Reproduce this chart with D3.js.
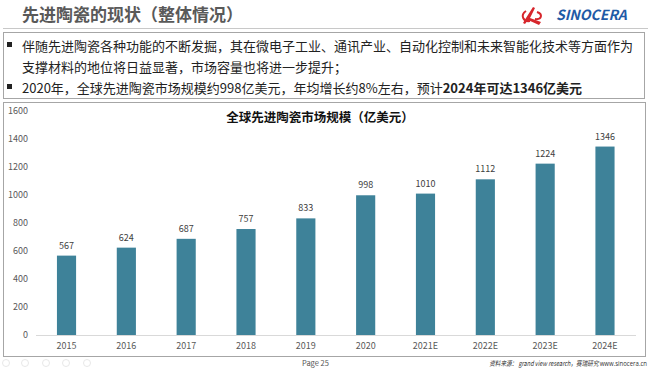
<!DOCTYPE html>
<html>
<head>
<meta charset="utf-8">
<script src="https://cdn.jsdelivr.net/npm/d3@7"></script>
<style>
  body { margin: 0; background: #fff; }
  svg { display: block; }
  text { font-family: "Noto Sans CJK SC", "Noto Sans", sans-serif; }
</style>
</head>
<body>
<div id="chart"></div>
<script>
// chart data
const years = ['2015', '2016', '2017', '2018', '2019', '2020', '2021E', '2022E', '2023E', '2024E'];
const marketSize = [567, 624, 687, 757, 833, 998, 1010, 1112, 1224, 1346];
const yTicks = [0, 200, 400, 600, 800, 1000, 1200, 1400, 1600];

const bullets = [
  [{t: '伴随先进陶瓷各种功能的不断发掘，其在微电子工业、通讯产业、自动化控制和未来智能化技术等方面作为'}],
  [{t: '支撑材料的地位将日益显著，市场容量也将进一步提升；'}],
  [{t: '2020年，全球先进陶瓷市场规模约998亿美元，年均增长约8%左右，预计'}, {t: '2024年可达1346亿美元', b: true}]
];

const W = 651, H = 378;
const svg = d3.select('#chart').append('svg')
  .attr('width', W)
  .attr('height', H);

// ---- header
svg.append('text')
  .attr('x', 22).attr('y', 21)
  .attr('font-size', 17).attr('font-weight', 'bold')
  .attr('fill', '#595959')
  .text('先进陶瓷的现状（整体情况）');

// logo swoosh
const logo = svg.append('g').attr('transform', 'translate(522,7)');
logo.append('path')
  .attr('d', 'M11 0 L13 1 L8 11 L19 15 L17 18 L6 13 L3 17 L1 16 L4 11 Z')
  .attr('fill', '#d7262c');
logo.append('path')
  .attr('d', 'M4 4 C-2 8 1 15 8 14 M15 5 C21 7 20 13 13 12')
  .attr('fill', 'none').attr('stroke', '#d7262c').attr('stroke-width', 2);
svg.append('text')
  .attr('x', 556).attr('y', 20)
  .attr('font-family', '"Liberation Sans", Arial, sans-serif')
  .attr('font-size', 14).attr('font-weight', 'bold').attr('font-style', 'italic')
  .attr('fill', '#1f5aa6')
  .text('SINOCERA');

svg.append('line')
  .attr('x1', 3).attr('x2', 648).attr('y1', 28.5).attr('y2', 28.5)
  .attr('stroke', '#c8c8c8');

// ---- bullet box
svg.append('rect')
  .attr('x', 3.5).attr('y', 32.5).attr('width', 641).attr('height', 66)
  .attr('fill', 'none').attr('stroke', '#a6a6a6');

const lineY = [51, 72, 93];
bullets.forEach(function(parts, i) {
  if (i !== 1) {
    svg.append('rect')
      .attr('x', 7).attr('y', lineY[i] - 9).attr('width', 5).attr('height', 5)
      .attr('fill', '#222');
  }
  const t = svg.append('text')
    .attr('x', 22).attr('y', lineY[i])
    .attr('font-size', 13).attr('fill', '#222');
  parts.forEach(function(p) {
    t.append('tspan').attr('font-weight', p.b ? 'bold' : 'normal').text(p.t);
  });
});

// ---- chart box
svg.append('rect')
  .attr('x', 3.5).attr('y', 102.5).attr('width', 642).attr('height', 254)
  .attr('fill', 'none').attr('stroke', '#a6a6a6');

svg.append('text')
  .attr('x', 320).attr('y', 122)
  .attr('text-anchor', 'middle')
  .attr('font-size', 12.5).attr('font-weight', 'bold').attr('fill', '#111')
  .text('全球先进陶瓷市场规模（亿美元）');

const x = d3.scaleBand()
  .domain(years)
  .range([36.6, 634.9])
  .paddingInner(0.68)
  .paddingOuter(0.34);

const y = d3.scaleLinear()
  .domain([0, 1600])
  .range([335, 111]);

// y axis labels
const yAxis = svg.append('g')
  .attr('transform', 'translate(28,0)')
  .call(d3.axisLeft(y).tickValues(yTicks).tickFormat(d3.format('d')).tickSize(0).tickPadding(0));
yAxis.select('.domain').remove();
yAxis.selectAll('text')
  .attr('font-family', '"Open Sans", sans-serif')
  .attr('font-size', 9).attr('fill', '#595959');

// baseline
svg.append('line')
  .attr('x1', 36).attr('x2', 636)
  .attr('y1', y(0) + 0.5).attr('y2', y(0) + 0.5)
  .attr('stroke', '#d9d9d9');

// x axis labels
const xAxis = svg.append('g')
  .attr('transform', `translate(0,${y(0)})`)
  .call(d3.axisBottom(x).tickSize(0).tickPadding(8));
xAxis.select('.domain').remove();
xAxis.selectAll('text')
  .attr('font-family', '"Open Sans", sans-serif')
  .attr('font-size', 9).attr('fill', '#595959');

// bars
svg.selectAll('rect.bar')
  .data(marketSize)
  .enter().append('rect')
  .attr('class', 'bar')
  .attr('x', function(d, i) { return x(years[i]); })
  .attr('width', x.bandwidth())
  .attr('y', function(d) { return y(d); })
  .attr('height', function(d) { return y(0) - y(d); })
  .attr('fill', '#3e8299');

// value labels
svg.selectAll('text.val')
  .data(marketSize)
  .enter().append('text')
  .attr('class', 'val')
  .attr('x', function(d, i) { return x(years[i]) + x.bandwidth() / 2; })
  .attr('y', function(d) { return y(d) - 7; })
  .attr('text-anchor', 'middle')
  .attr('font-family', '"Open Sans", sans-serif')
  .attr('font-size', 9).attr('fill', '#404040')
  .text(function(d) { return d; });

// ---- footer
// faint toolbar icons at bottom left
[6, 25, 46, 66, 87].forEach(function(cx) {
  svg.append('circle')
    .attr('cx', cx).attr('cy', 363).attr('r', 3.5)
    .attr('fill', 'none').attr('stroke', '#e8e8e8');
});

svg.append('text')
  .attr('x', 302).attr('y', 366)
  .attr('font-family', '"Open Sans", sans-serif')
  .attr('font-size', 7.5).attr('fill', '#555')
  .text('Page 25');

// source line, squeezed horizontally to fit the corner
const src = svg.append('g')
  .attr('transform', 'translate(647,366) scale(0.8,1)')
  .append('text')
  .attr('text-anchor', 'end')
  .attr('font-size', 7).attr('fill', '#333');
src.append('tspan').attr('font-style', 'italic')
  .text('资料来源： grand view research，赛瑞研究 ');
src.append('tspan').attr('font-family', '"Open Sans", sans-serif').attr('font-size', 7.5)
  .text('www.sinocera.cn');
</script>
</body>
</html>
